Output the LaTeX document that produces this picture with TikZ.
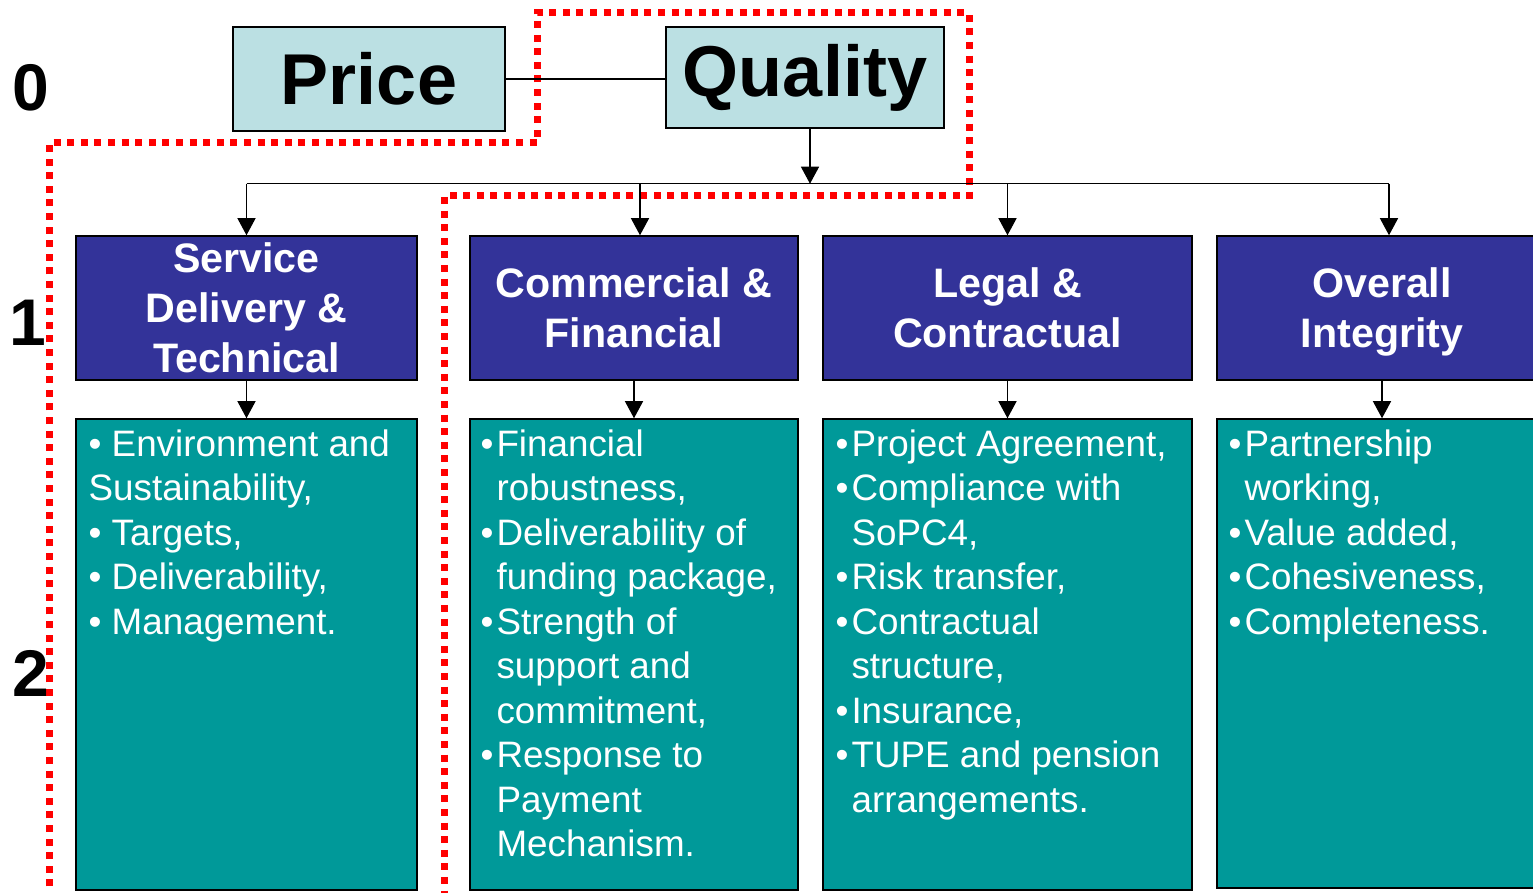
\documentclass[tikz,border=0pt]{standalone}
\usepackage{fontspec}
\setmainfont{Liberation Sans}
\usetikzlibrary{arrows.meta,positioning}

\definecolor{pricefill}{HTML}{BBE0E3}
\definecolor{headfill}{HTML}{333399}
\definecolor{listfill}{HTML}{009999}

\begin{document}
\begin{tikzpicture}[x=0.5pt, y=-0.5pt, >={Triangle[width=9pt,length=8.5pt]},
    topbox/.style={draw, line width=0.75pt, fill=pricefill, inner sep=0pt,
        font=\fontsize{36}{40}\selectfont\bfseries},
    headbox/.style={draw, line width=0.75pt, fill=headfill, text=white, align=center,
        minimum height=72pt, inner sep=0pt, font=\fontsize{20.6}{25}\selectfont\bfseries},
    listbox/.style={draw, line width=0.75pt, fill=listfill, minimum height=235.5pt, inner sep=0pt},
    listtext/.style={anchor=north west, text=white, align=left, inner sep=0pt,
        font=\fontsize{18.4}{22.25}\selectfont},
    lvlnum/.style={inner sep=0pt, font=\fontsize{33}{36}\selectfont\bfseries},
    arr/.style={->, line width=0.6pt},
    ]

    %% Background
    \useasboundingbox (0,0) rectangle (1533,893);

    % Evaluation boundary
    \draw[red, line width=3.5pt, dash pattern=on 3.5pt off 3.3pt]
    (49,900) -- (49,143) -- (537,143) -- (537,13) -- (969,13)
    -- (969,196) -- (444,196) -- (444,900)
    ;

    % Level 0
    \node[topbox, minimum width=136pt, minimum height=52pt] (price) at (369,79) {Price};
    \node[topbox, minimum width=139pt, minimum height=50.5pt] (quality) at (805,77.5) {Quality};

    % Level 1
    \node[headbox, minimum width=170.5pt] (sdt) at (246.5,308) {Service\\Delivery \&\\Technical};
    \node[headbox, minimum width=164pt, right=25.75pt of sdt] (cf) {Commercial \&\\Financial};
    \node[headbox, minimum width=184.5pt, right=11.75pt of cf] (lc) {Legal \&\\Contractual};
    \node[headbox, minimum width=165pt, right=11.75pt of lc] (oi)
    {Overall\\\raisebox{0pt}[\height][0pt]{Integrity}};

    % Level 2
    \node[listbox, minimum width=170.5pt, below=18.75pt of sdt] (sdt-list) {};
    \node[listbox, minimum width=164pt, below=18.75pt of cf] (cf-list) {};
    \node[listbox, minimum width=184.5pt, below=18.75pt of lc] (lc-list) {};
    \node[listbox, minimum width=165pt, minimum height=234.5pt, below=18.75pt of oi] (oi-list) {};

    \node[listtext] (sdt-text) at ([shift={(6.5pt,-5.5pt)}]sdt-list.north west)
    {\textbullet{} Environment and\\Sustainability,\\\textbullet{} Targets,\\
     \textbullet{} Deliverability,\\\textbullet{} Management.};
    \node[listtext] (cf-text) at ([shift={(5.5pt,-5.5pt)}]cf-list.north west)
    {\textbullet\hspace{1.5pt}Financial\\\phantom{\textbullet}\hspace{1.5pt}robustness,\\
     \textbullet\hspace{1.5pt}Deliverability of\\\phantom{\textbullet}\hspace{1.5pt}funding package,\\
     \textbullet\hspace{1.5pt}Strength of\\\phantom{\textbullet}\hspace{1.5pt}support and\\
     \phantom{\textbullet}\hspace{1.5pt}commitment,\\
     \textbullet\hspace{1.5pt}Response to\\\phantom{\textbullet}\hspace{1.5pt}Payment\\
     \phantom{\textbullet}\hspace{1.5pt}Mechanism.};
    \node[listtext] (lc-text) at ([shift={(6.5pt,-5.5pt)}]lc-list.north west)
    {\textbullet\hspace{1.5pt}Project Agreement,\\\textbullet\hspace{1.5pt}Compliance with\\
     \phantom{\textbullet}\hspace{1.5pt}SoPC4,\\
     \textbullet\hspace{1.5pt}Risk transfer,\\\textbullet\hspace{1.5pt}Contractual\\
     \phantom{\textbullet}\hspace{1.5pt}structure,\\
     \textbullet\hspace{1.5pt}Insurance,\\\textbullet\hspace{1.5pt}TUPE and pension\\
     \phantom{\textbullet}\hspace{1.5pt}arrangements.};
    \node[listtext] (oi-text) at ([shift={(6pt,-5.5pt)}]oi-list.north west)
    {\textbullet\hspace{1.5pt}Partnership\\\phantom{\textbullet}\hspace{1.5pt}working,\\
     \textbullet\hspace{1.5pt}Value added,\\
     \textbullet\hspace{1.5pt}Cohesiveness,\\\textbullet\hspace{1.5pt}Completeness.};

    % Level numbers
    \node[lvlnum] (lvl0) at (31,88) {0};
    \node[lvlnum] (lvl1) at (28,323) {1};
    \node[lvlnum] (lvl2) at (31,673) {2};

    % Connectors
    \coordinate (qOut) at ([xshift=2.5pt]quality.south);
    \coordinate (bus) at ([yshift=-27.5pt]qOut);
    \coordinate (cfIn) at ([xshift=3pt]cf.north);
    \coordinate (oiIn) at ([xshift=3.5pt]oi.north);

    \draw[line width=0.6pt] (price.east) -- (price.east -| quality.west);
    \draw[arr] (qOut) -- (bus);
    \draw[line width=0.6pt] (sdt.north |- bus) -- (oiIn |- bus);

    \draw[arr] (sdt.north |- bus) to (sdt.north);
    \draw[arr] (cfIn |- bus) to (cfIn);
    \draw[arr] (lc.north |- bus) to (lc.north);
    \draw[arr] (oiIn |- bus) to (oiIn);

    \foreach \n in {sdt,cf,lc,oi}
    {
    \draw[arr] (\n.south) to (\n-list.north);
    }

\end{tikzpicture}
\end{document}
